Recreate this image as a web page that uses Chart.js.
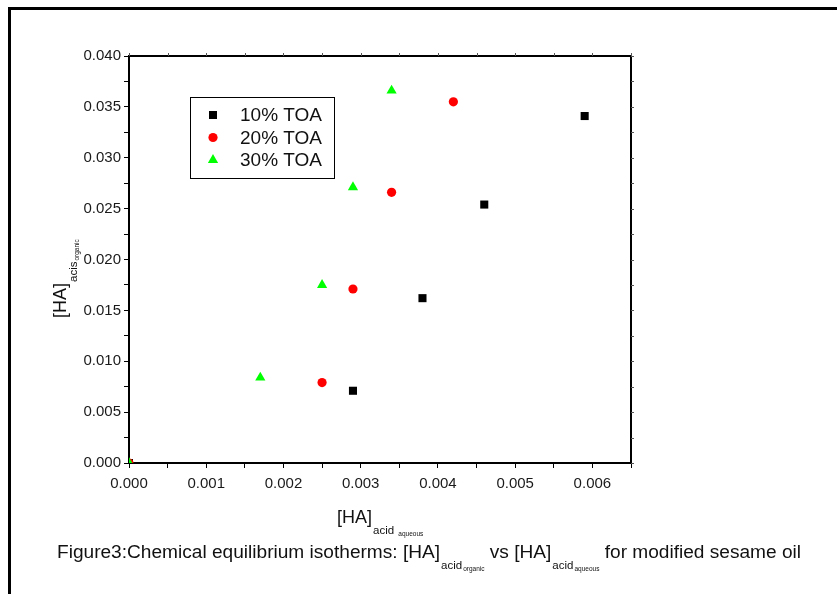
<!DOCTYPE html>
<html>
<head>
<meta charset="utf-8">
<script src="https://cdn.jsdelivr.net/npm/chart.js@4/dist/chart.umd.min.js"></script>
<style>
  html, body { margin: 0; padding: 0; background: #fff; overflow: hidden; }
  #wrap { position: relative; width: 837px; height: 594px; font-family: 'Liberation Sans', Arial, sans-serif; color: #111; }
  canvas { position: absolute; left: 0; top: 0; }
  #frame { position: absolute; left: 8px; top: 7px; width: 829px; height: 587px; border-top: 3px solid #000; border-left: 3px solid #000; box-sizing: border-box; }
  .t { position: absolute; white-space: nowrap; line-height: 18px; font-size: 18px; }
  .s1 { position: relative; top: 11px; font-size: 11.5px; margin-left: 1px; }
  .s2 { position: relative; top: 2px; font-size: 6.5px; margin-left: 1px; }
  #xtitle { left: 337px; top: 508px; }
  #ytitle { left: 51px; top: 318px; transform: rotate(-90deg); transform-origin: 0 0; }
  #caption { left: 57px; top: 542px; font-size: 19.1px; line-height: 19px; }
</style>
</head>
<body>
<div id="wrap">
  <canvas id="c" width="837" height="594"></canvas>
  <div id="frame"></div>
  <div class="t" id="xtitle">[HA]<span class="s1">acid <span class="s2">aqueous</span></span></div>
  <div class="t" id="ytitle">[HA]<span class="s1">acis<span class="s2">organic</span></span></div>
  <div class="t" id="caption">Figure3:Chemical equilibrium isotherms: [HA]<span class="s1">acid<span class="s2">organic</span></span> vs [HA]<span class="s1">acid<span class="s2">aqueous</span></span> for modified sesame oil</div>
</div>
<script>
// ---- data ----
const seriesLabels = ['10% TOA', '20% TOA', '30% TOA'];
const toa10x = [0, 0.0029, 0.0038, 0.0046, 0.0059];
const toa10y = [0, 0.0071, 0.0162, 0.0254, 0.0341];
const toa20x = [0, 0.0025, 0.0029, 0.0034, 0.0042];
const toa20y = [0, 0.0079, 0.0171, 0.0266, 0.0355];
const toa30x = [0, 0.0017, 0.0025, 0.0029, 0.0034];
const toa30y = [0, 0.0084, 0.0175, 0.0271, 0.0366];
const xMin = 0, xMax = 0.0065, xMajor = 0.001;
const yMin = 0, yMax = 0.040, yMajor = 0.005;

const pts = (xs, ys) => xs.map((x, i) => ({ x: x, y: ys[i] }));

Chart.defaults.font.family = "'Liberation Sans', Arial, sans-serif";
Chart.defaults.color = '#111';

const isMajor = (v, step) => Math.abs(v / step - Math.round(v / step)) < 1e-6;

const frameTicks = {
  id: 'frameTicks',
  afterDraw(chart) {
    const { ctx, chartArea: a, scales } = chart;
    ctx.save();
    ctx.strokeStyle = '#000';
    ctx.lineWidth = 2;
    ctx.beginPath();
    ctx.moveTo(a.left, a.top);
    ctx.lineTo(a.right, a.top);
    ctx.lineTo(a.right, a.bottom);
    ctx.stroke();
    ctx.lineWidth = 1;
    ctx.strokeStyle = '#555';
    ctx.beginPath();
    scales.x.ticks.forEach(t => {
      const px = Math.round(scales.x.getPixelForValue(t.value)) + 0.5;
      ctx.moveTo(px, a.top);
      ctx.lineTo(px, a.top - 3);
    });
    scales.y.ticks.forEach(t => {
      const py = Math.round(scales.y.getPixelForValue(t.value)) + 0.5;
      ctx.moveTo(a.right, py);
      ctx.lineTo(a.right + 3, py);
    });
    ctx.stroke();
    ctx.restore();
  }
};

const boxLegend = {
  id: 'boxLegend',
  afterDraw(chart) {
    const { ctx, chartArea: a } = chart;
    const left = a.left + 61, top = a.top + 41, w = 144, h = 81;
    ctx.save();
    ctx.strokeStyle = '#000';
    ctx.lineWidth = 1;
    ctx.strokeRect(left + 0.5, top + 0.5, w, h);
    chart.data.datasets.forEach((ds, i) => {
      const cy = top + 18 + i * 22.5;
      ctx.fillStyle = ds.backgroundColor;
      ctx.strokeStyle = ds.backgroundColor;
      Chart.helpers.drawPoint(ctx, { pointStyle: ds.pointStyle, radius: ds.pointRadius, borderWidth: 0, rotation: 0 }, left + 23, cy);
      ctx.fillStyle = '#111';
      ctx.font = "19px 'Liberation Sans', Arial, sans-serif";
      ctx.textBaseline = 'middle';
      ctx.textAlign = 'left';
      ctx.fillText(ds.label, left + 50, cy + 1);
    });
    ctx.restore();
  }
};

new Chart(document.getElementById('c'), {
  type: 'scatter',
  data: {
    datasets: [
      { label: seriesLabels[0], data: pts(toa10x, toa10y), order: 2, pointStyle: 'rect', pointRadius: 5.7, backgroundColor: '#000000', borderWidth: 0, pointBorderWidth: 0 },
      { label: seriesLabels[1], data: pts(toa20x, toa20y), order: 1, pointStyle: 'circle', pointRadius: 4.6, backgroundColor: '#ff0000', borderWidth: 0, pointBorderWidth: 0 },
      { label: seriesLabels[2], data: pts(toa30x, toa30y), order: 0, pointStyle: 'triangle', pointRadius: 5.9, backgroundColor: '#00ff00', borderWidth: 0, pointBorderWidth: 0 }
    ]
  },
  options: {
    responsive: false,
    animation: false,
    events: [],
    layout: { padding: { left: 0, top: 56, right: 206, bottom: 0 } },
    plugins: { legend: { display: false }, tooltip: { enabled: false } },
    scales: {
      x: {
        type: 'linear', min: xMin, max: xMax,
        afterFit: s => { s.height = 131; },
        border: { display: true, color: '#000', width: 2 },
        grid: { drawOnChartArea: false, tickLength: 5, color: '#000', tickWidth: 1 },
        ticks: {
          stepSize: xMajor / 2, padding: 7, autoSkip: false, maxRotation: 0,
          font: { size: 15 }, color: '#1a1a1a',
          callback: v => isMajor(v, xMajor) ? v.toFixed(3) : ''
        }
      },
      y: {
        type: 'linear', min: yMin, max: yMax,
        afterFit: s => { s.width = 129; },
        border: { display: true, color: '#000', width: 2 },
        grid: { drawOnChartArea: false, tickLength: 5, color: '#000', tickWidth: 1 },
        ticks: {
          stepSize: yMajor / 2, padding: 3, autoSkip: false,
          font: { size: 15 }, color: '#1a1a1a',
          callback: v => isMajor(v, yMajor) ? v.toFixed(3) : ''
        }
      }
    }
  },
  plugins: [frameTicks, boxLegend]
});
</script>
</body>
</html>
